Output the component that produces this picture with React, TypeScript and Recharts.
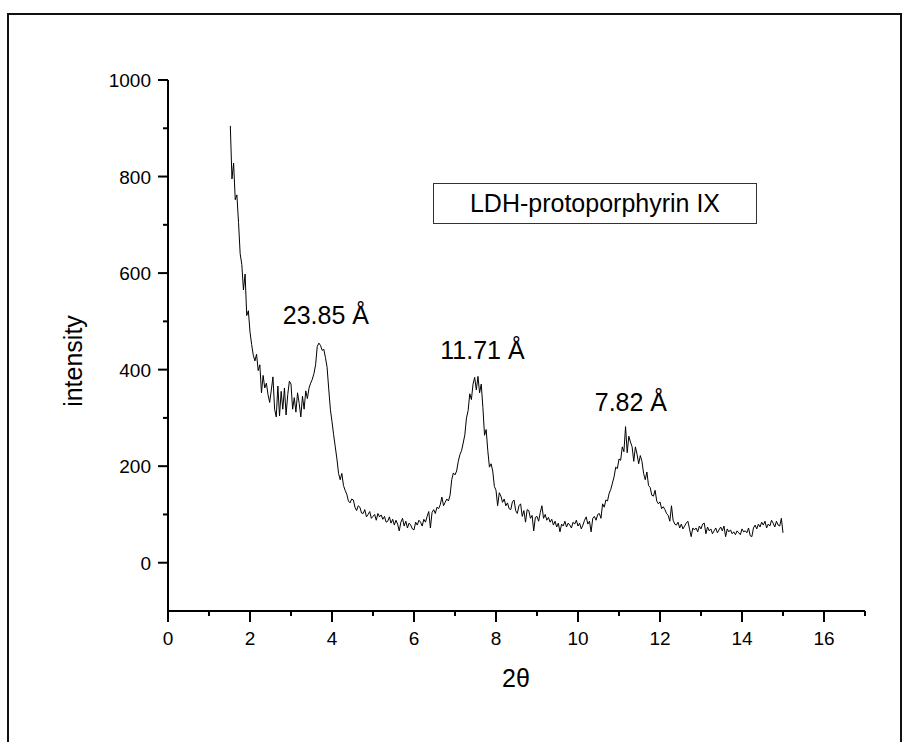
import React from 'react';
import { LineChart, Line, XAxis, YAxis, ReferenceDot } from 'recharts';

// ---- data ----
const twoThetaStart = 1.52;
const twoThetaStep = 0.04;
const intensity: number[] = [
  905, 795, 828, 752, 762, 705, 640, 618, 565, 598, 512, 522, 478, 452, 430, 418, 432, 398, 410, 352, 388, 362, 372, 348, 332,
  358, 385, 318, 302, 366, 304, 355, 318, 362, 306, 348, 376, 370, 318, 342, 312, 352, 330, 302, 345, 318, 356, 340, 362, 372,
  380, 392, 410, 448, 455, 450, 440, 442, 425, 405, 360, 318, 292, 265, 240, 215, 185, 172, 185, 160, 150, 142, 128, 124, 132,
  130, 115, 108, 118, 115, 103, 102, 110, 95, 100, 106, 92, 96, 100, 88, 102, 95, 99, 90, 96, 84, 86, 95, 82, 90,
  78, 88, 80, 66, 84, 92, 76, 86, 72, 82, 78, 70, 68, 84, 78, 88, 84, 76, 90, 84, 96, 106, 72, 104, 110,
  102, 115, 112, 120, 136, 118, 125, 132, 128, 140, 172, 186, 182, 190, 210, 224, 232, 248, 265, 300, 315, 350, 338, 370, 384,
  358, 386, 352, 370, 322, 264, 276, 232, 198, 205, 190, 158, 150, 118, 145, 138, 125, 132, 118, 124, 112, 110, 126, 130, 108,
  102, 118, 122, 96, 108, 84, 110, 108, 92, 98, 66, 94, 96, 86, 104, 118, 92, 100, 88, 94, 84, 90, 78, 86, 74,
  82, 64, 80, 76, 86, 74, 82, 78, 72, 84, 80, 88, 76, 82, 70, 78, 88, 95, 80, 86, 64, 92, 96, 88, 100,
  102, 92, 122, 115, 130, 128, 144, 152, 165, 178, 198, 195, 215, 212, 240, 230, 282, 228, 262, 250, 240, 210, 240, 225, 205,
  222, 210, 185, 172, 188, 160, 156, 140, 138, 150, 128, 122, 126, 112, 116, 110, 102, 98, 86, 118, 88, 80, 78, 84, 72,
  80, 70, 76, 82, 86, 70, 54, 72, 68, 72, 64, 76, 70, 80, 82, 60, 74, 66, 70, 60, 66, 72, 62, 68, 74,
  66, 76, 54, 70, 64, 68, 60, 64, 58, 66, 62, 58, 70, 64, 66, 62, 72, 56, 54, 72, 78, 70, 80, 74, 84,
  78, 86, 72, 80, 76, 88, 82, 74, 86, 78, 76, 92, 62,
];

const xTicks = [0, 1, 2, 3, 4, 5, 6, 7, 8, 9, 10, 11, 12, 13, 14, 15, 16, 17];
const yTicks = [0, 100, 200, 300, 400, 500, 600, 700, 800, 900, 1000];
const xDomain: [number, number] = [0, 17];
const yDomain: [number, number] = [-100, 1000];

const peakTexts = ['23.85 Å', '11.71 Å', '7.82 Å'];
const peakTextX = [3.85, 7.67, 11.29];
const peakTextY = [513, 440, 333];

const legendText = 'LDH-protoporphyrin IX';
const xTitle = '2θ';
const yTitle = 'intensity';

const data = intensity.map((v, i) => ({
  x: Number((twoThetaStart + i * twoThetaStep).toFixed(2)),
  y: v,
}));

const FONT = '"Liberation Sans", Arial, Helvetica, sans-serif';

const YTick = (props: any) => {
  const { x, y, payload } = props;
  const v = payload.value as number;
  const major = v % 200 === 0;
  return (
    <g>
      <line x1={x} x2={x - (major ? 10 : 5)} y1={y} y2={y} stroke="#000" strokeWidth={2} />
      {major && (
        <text x={x - 17} y={y + 7} textAnchor="end" fontSize={19} fontFamily={FONT} fill="#000">
          {v}
        </text>
      )}
    </g>
  );
};

const XTick = (props: any) => {
  const { x, y, payload } = props;
  const v = payload.value as number;
  const major = v % 2 === 0;
  return (
    <g>
      <line x1={x} x2={x} y1={y} y2={y + (major ? 11 : 5)} stroke="#000" strokeWidth={2} />
      {major && (
        <text x={x} y={y + 34} textAnchor="middle" fontSize={19} fontFamily={FONT} fill="#000">
          {v}
        </text>
      )}
    </g>
  );
};

export default function App() {
  return (
    <div style={{ position: 'absolute', left: 0, top: 0, width: 904, height: 742, background: '#fff' }}>
      <LineChart
        width={904}
        height={742}
        data={data}
        margin={{ top: 80, right: 39, bottom: 101, left: 108 }}
      >
        <XAxis
          dataKey="x"
          type="number"
          domain={xDomain}
          ticks={xTicks}
          interval={0}
          height={30}
          tickSize={0}
          tickMargin={0}
          tickLine={false}
          axisLine={{ stroke: '#000', strokeWidth: 2 }}
          tick={<XTick />}
          allowDataOverflow
        />
        <YAxis
          type="number"
          domain={yDomain}
          ticks={yTicks}
          interval={0}
          width={60}
          tickSize={0}
          tickMargin={0}
          tickLine={false}
          axisLine={{ stroke: '#000', strokeWidth: 2 }}
          tick={<YTick />}
          allowDataOverflow
        />
        <Line
          type="linear"
          dataKey="y"
          stroke="#000"
          strokeWidth={1}
          dot={false}
          isAnimationActive={false}
        />
        {peakTexts.map((t, i) => (
          <ReferenceDot
            key={t}
            x={peakTextX[i]}
            y={peakTextY[i]}
            r={0}
            fill="none"
            stroke="none"
            ifOverflow="visible"
            label={{ value: t, position: 'center', fontSize: 25, fontFamily: FONT, fill: '#000' }}
          />
        ))}
      </LineChart>
      <svg
        width={904}
        height={742}
        style={{ position: 'absolute', left: 0, top: 0, pointerEvents: 'none' }}
      >
        <rect x={8} y={14} width={893} height={740} fill="none" stroke="#111" strokeWidth={2} />
        <rect x={433.5} y={183.5} width={323} height={40} fill="none" stroke="#333" strokeWidth={1} />
        <text x={595} y={212} textAnchor="middle" fontSize={25} fontFamily={FONT} fill="#000">
          {legendText}
        </text>
        <text x={516} y={687} textAnchor="middle" fontSize={25} fontFamily={FONT} fill="#000">
          {xTitle}
        </text>
        <text
          x={82}
          y={361}
          textAnchor="middle"
          fontSize={25}
          fontFamily={FONT}
          fill="#000"
          transform="rotate(-90 82 361)"
        >
          {yTitle}
        </text>
      </svg>
    </div>
  );
}
